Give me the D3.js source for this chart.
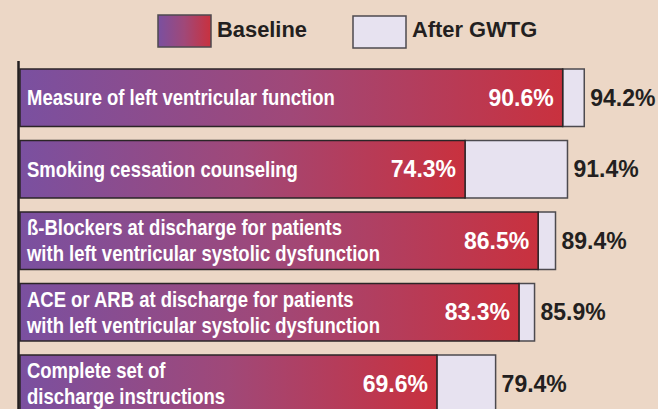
<!DOCTYPE html>
<html><head>
<meta charset="utf-8">
<script src="https://d3js.org/d3.v7.min.js"></script>
<style>
  body { margin: 0; background: #ecd7c6; }
  svg { display: block; }
  .cat { font-family: "Liberation Sans", Arial, sans-serif; font-weight: bold; fill: #fff; font-size: 21.5px; }
  .val { font-family: "Liberation Sans", Arial, sans-serif; font-weight: bold; font-size: 23px; }
  .legend text { font-family: "Liberation Sans", Arial, sans-serif; font-weight: bold; font-size: 22.5px; fill: #231f20; }
</style>
</head>
<body>
<svg id="chart" width="658" height="409"></svg>
<script>
  // data
  const categories = [
    ["Measure of left ventricular function"],
    ["Smoking cessation counseling"],
    ["ß-Blockers at discharge for patients", "with left ventricular systolic dysfunction"],
    ["ACE or ARB at discharge for patients", "with left ventricular systolic dysfunction"],
    ["Complete set of", "discharge instructions"]
  ];
  const baseline = [90.6, 74.3, 86.5, 83.3, 69.6];
  const afterGWTG = [94.2, 91.4, 89.4, 85.9, 79.4];
  const seriesNames = ["Baseline", "After GWTG"];

  const svg = d3.select("#chart");

  // gradient used for the baseline bars
  const defs = svg.append("defs");
  const grad = defs.append("linearGradient").attr("id", "baseGrad")
    .attr("x1", "0%").attr("x2", "100%").attr("y1", "0%").attr("y2", "0%");
  grad.append("stop").attr("offset", "0%").attr("stop-color", "#7a50a0");
  grad.append("stop").attr("offset", "50%").attr("stop-color", "#a04878");
  grad.append("stop").attr("offset", "100%").attr("stop-color", "#c9313e");

  const x = d3.scaleLinear().domain([0, 100]).range([20, 619]);
  const y = d3.scaleBand().domain(d3.range(categories.length))
              .range([62, 419.5]).paddingInner(0.196).paddingOuter(0.098);
  const bh = y.bandwidth();

  const rows = svg.append("g").selectAll("g.row")
    .data(categories.map((c, i) => ({ cat: c, base: baseline[i], after: afterGWTG[i], i: i })))
    .join("g").attr("class", "row")
    .attr("transform", d => "translate(0," + y(d.i) + ")");

  // After GWTG bar (the part beyond baseline)
  rows.append("rect")
    .attr("x", d => x(d.base))
    .attr("y", 0)
    .attr("width", d => x(d.after) - x(d.base))
    .attr("height", bh)
    .attr("fill", "#e7e2f0")
    .attr("stroke", "#4d4a4f")
    .attr("stroke-width", 1.5);

  // Baseline bar
  rows.append("rect")
    .attr("x", x(0))
    .attr("y", 0)
    .attr("width", d => x(d.base) - x(0))
    .attr("height", bh)
    .attr("fill", "url(#baseGrad)")
    .attr("stroke", "#2b2527")
    .attr("stroke-width", 1.5);

  // no condensed font installed -> squeeze Liberation Sans Bold horizontally
  // so the first label comes out about as wide as in the original
  const probe = svg.append("text").attr("class", "cat").text(categories[0][0]);
  const sx = 308 / probe.node().getComputedTextLength();
  probe.remove();

  // category labels
  rows.each(function(d) {
    const g = d3.select(this);
    const lines = d.cat;
    const c = bh / 2;
    const base = lines.length === 1 ? [c + 7.5] : [c - 5.5, c + 20.5];
    lines.forEach((t, k) => {
      g.append("text").attr("class", "cat")
        .attr("transform", "translate(27," + base[k] + ") scale(" + sx + ",1)")
        .text(t);
    });
  });

  // value labels
  rows.append("text").attr("class", "val")
    .attr("x", d => x(d.base) - 9)
    .attr("y", bh / 2 + 8)
    .attr("text-anchor", "end")
    .attr("fill", "#fff")
    .text(d => d.base.toFixed(1) + "%");

  rows.append("text").attr("class", "val")
    .attr("x", d => x(d.after) + 6)
    .attr("y", bh / 2 + 8)
    .attr("fill", "#231f20")
    .text(d => d.after.toFixed(1) + "%");

  // vertical axis line
  svg.append("line")
    .attr("x1", 18.5).attr("x2", 18.5)
    .attr("y1", 61).attr("y2", 409)
    .attr("stroke", "#231f20").attr("stroke-width", 2.5);

  // legend
  const legend = svg.append("g").attr("class", "legend");
  const lprobe = legend.append("text").text(seriesNames[0]);
  const lsx = 90 / lprobe.node().getComputedTextLength();
  lprobe.remove();

  const legX = [158, 353];
  const legFill = ["url(#baseGrad)", "#e7e2f0"];
  seriesNames.forEach((n, i) => {
    legend.append("rect")
      .attr("x", legX[i]).attr("y", 15 + i)
      .attr("width", 53).attr("height", 32)
      .attr("fill", legFill[i])
      .attr("stroke", "#4d4a4f").attr("stroke-width", 1.5);
    legend.append("text")
      .attr("transform", "translate(" + (legX[i] + 59) + ",37) scale(" + lsx + ",1)")
      .text(n);
  });
</script>
</body>
</html>
